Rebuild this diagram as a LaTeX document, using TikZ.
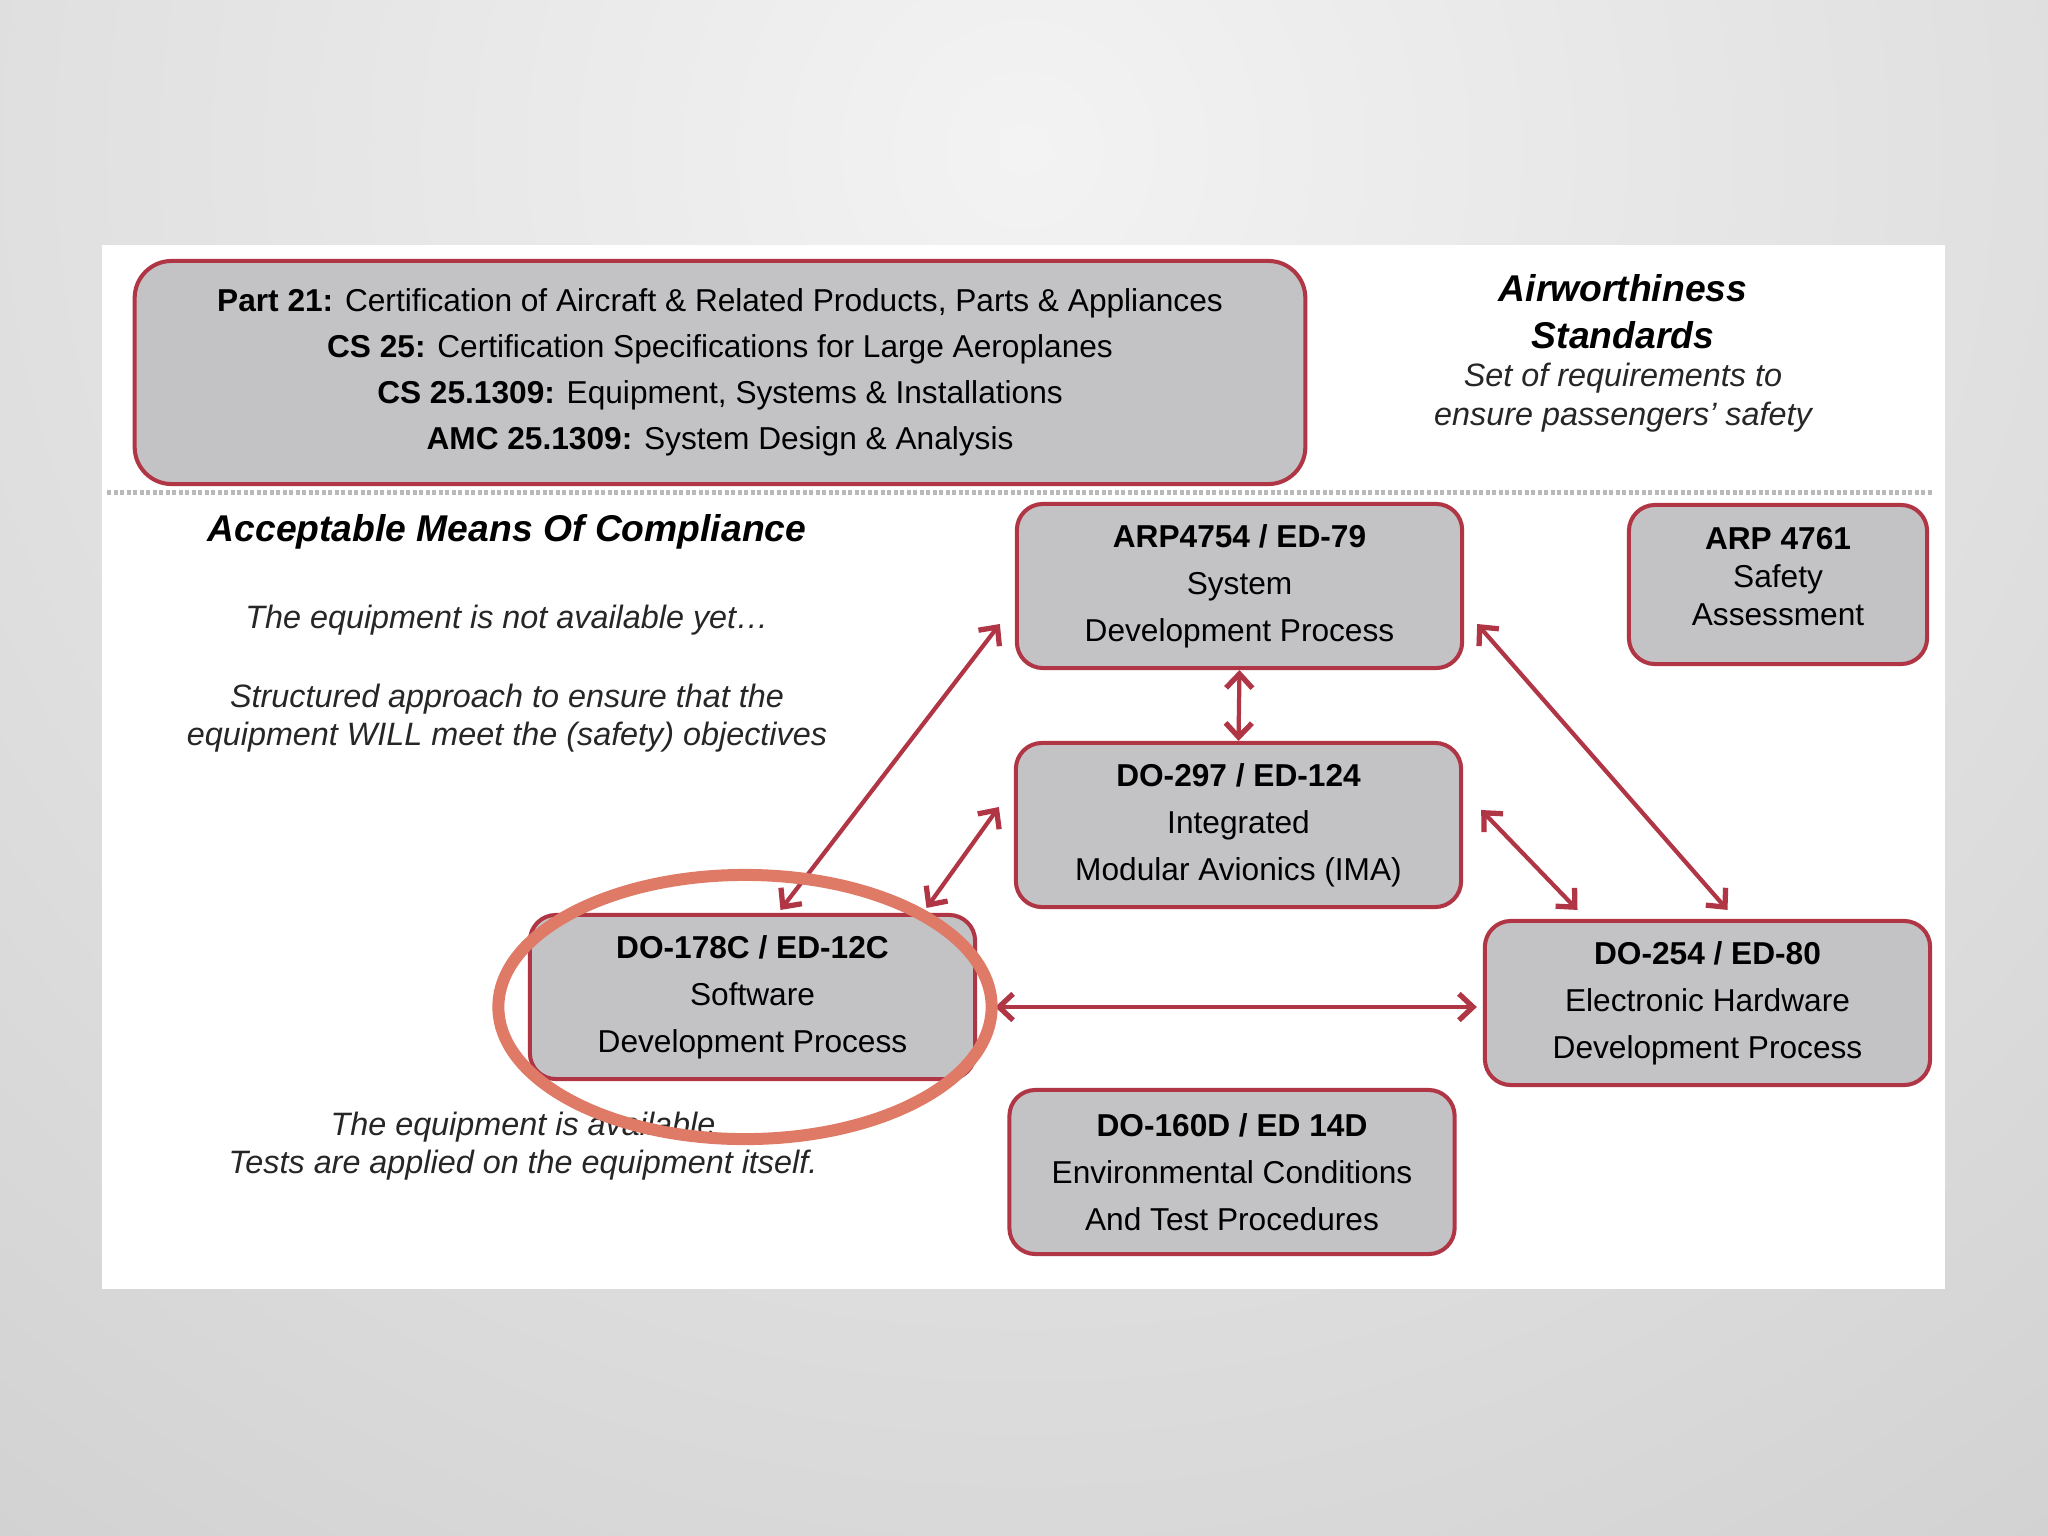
\documentclass[tikz,border=0pt]{standalone}
\usepackage{fontspec}
\setmainfont{Liberation Sans}
\usepackage{xcolor}
\usetikzlibrary{arrows.meta,positioning,calc,shapes.geometric}

\definecolor{crimson}{HTML}{B03545}
\definecolor{boxgray}{HTML}{C3C3C5}
\definecolor{ringred}{HTML}{DE7A65}
\definecolor{bgedge}{HTML}{C9C9C9}
\definecolor{bgmid}{HTML}{F3F3F3}

\begin{document}
\begin{tikzpicture}[
  x=0.01cm, y=-0.01cm,
  std/.style ={draw=crimson,line width=1.15pt,fill=boxgray,rounded corners=0.26cm,
               align=center,inner sep=0pt,minimum width=4.45cm,minimum height=1.64cm,
               font=\fontsize{9}{13.4}\selectfont},
  head/.style={font=\fontsize{10.6}{13.4}\selectfont\bfseries\itshape,align=center,inner sep=0pt},
  note/.style={font=\fontsize{9.2}{10.8}\selectfont\itshape,align=center,inner sep=0pt,text=black!85},
  link/.style={draw=crimson,line width=1.2pt,
               {Straight Barb[length=4pt,width=7.5pt,line width=1.5pt]}-{Straight Barb[length=4pt,width=7.5pt,line width=1.5pt]}},
  ring/.style={draw=ringred,line width=0.12cm,ellipse,inner sep=0pt,
               minimum width=4.93cm,minimum height=2.64cm},
  sep/.style ={draw=gray!55,line width=0.05cm,dash pattern=on 0.04cm off 0.025cm}]

\useasboundingbox (0,0) rectangle (2048,1536);

%---------------- backdrop ----------------
\begin{scope}
\clip (0,0) rectangle (2048,1536);
\fill[bgedge] (0,0) rectangle (2048,1536);
\shade[inner color=bgmid,outer color=bgedge] (1024,150) circle (22cm);
\end{scope}
\fill[white] (102,245) rectangle (1945,1289);

%---------------- regulations ----------------
\node[std,rounded corners=0.37cm,minimum width=11.70cm,minimum height=2.23cm,
      font=\fontsize{9}{13.1}\selectfont] (regs) at (720,372.5)
  {\textbf{Part 21:} Certification of Aircraft \& Related Products, Parts \& Appliances\\
   \textbf{CS 25:} Certification Specifications for Large Aeroplanes\\
   \textbf{CS 25.1309:} Equipment, Systems \& Installations\\
   \textbf{AMC 25.1309:} System Design \& Analysis};
\node[head] (airw) at (1623,312) {Airworthiness\\Standards};
\node[note,font=\fontsize{9.2}{11.1}\selectfont\itshape] (airwnote) at (1623,398)
  {Set of requirements to\\ensure passengers' safety};

\coordinate (sepL) at (107,492);
\coordinate (sepR) at (1933,492);
\draw[sep] (sepL) -- (sepR);

%---------------- means of compliance ----------------
\node[head] (amc) at (507,532) {Acceptable Means Of Compliance};
\node[note] (notyet) at (507,620) {The equipment is not available yet\ldots};
\node[note] (willmeet) at (507,718)
  {Structured approach to ensure that the\\equipment WILL meet the (safety) objectives};
\node[note] (tested) at (523,1146)
  {The equipment is available\\Tests are applied on the equipment itself.};

\node[std] (arp) at (1239.5,586) {\textbf{ARP4754 / ED-79}\\System\\Development Process};
\node[std,minimum width=2.98cm,minimum height=1.59cm,
      font=\fontsize{9}{10.8}\selectfont] (safety) at (1778,584.5)
  {\textbf{ARP 4761}\\Safety\\Assessment\\[-6pt]\mbox{}};
\node[std] (ima) at (1238.5,825) {\textbf{DO-297 / ED-124}\\Integrated\\Modular Avionics (IMA)};
\node[std] (sw) at (752.5,997) {\textbf{DO-178C / ED-12C}\\Software\\Development Process};
\node[std] (hw) at (1707.5,1003) {\textbf{DO-254 / ED-80}\\Electronic Hardware\\Development Process};
\node[std] (env) at (1232,1172) {\textbf{DO-160D / ED 14D}\\Environmental Conditions\\And Test Procedures};

%---------------- links ----------------
\draw[link] ($(sw.north)+(28,-3)$) -- ($(arp.west)+(-15,38)$);
\draw[link] ($(sw.north)+(174,-5)$) -- ($(ima.west)+(-15,-18)$);
\draw[link] (arp.south) -- (ima.north);
\draw[link] ($(arp.east)+(13,38)$) -- ($(hw.north)+(20,-9)$);
\draw[link] ($(ima.east)+(18,-15)$) -- ($(hw.north)+(-130,-9)$);
\draw[link] ($(sw.east)+(18,10)$) -- ($(hw.west)+(-6,4)$);

% highlight on the software process
\node[ring] (focus) at (745,1007) {};

\end{tikzpicture}
\end{document}
